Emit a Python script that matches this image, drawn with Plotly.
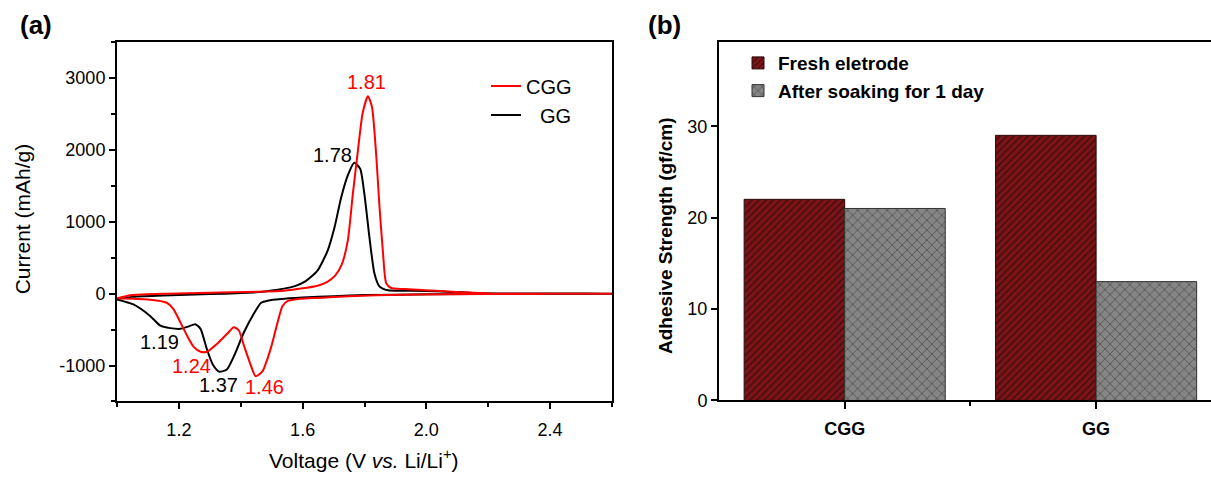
import plotly.graph_objects as go

W, H = 1211, 479
FONT = "Liberation Sans, Arial, sans-serif"

# ---------------- Panel (a): CV curves ----------------
gg_cath_v = [2.6, 2.3, 2.0, 1.8, 1.7, 1.6, 1.53, 1.49, 1.465, 1.445, 1.41, 1.38, 1.355, 1.33, 1.31,
             1.29, 1.27, 1.253, 1.232, 1.205, 1.172, 1.14, 1.107, 1.053, 1.0]
gg_cath_i = [0, -3, -10, -20, -35, -55, -75, -95, -130, -260, -540, -850, -1055, -1085, -990,
             -765, -490, -425, -455, -490, -480, -445, -310, -150, -80]
gg_anod_v = [1.0, 1.05, 1.15, 1.25, 1.35, 1.45, 1.5, 1.54, 1.575, 1.61, 1.648, 1.681, 1.703, 1.724, 1.746,
             1.767, 1.786, 1.8, 1.816, 1.832, 1.848, 1.876, 1.95, 2.05, 2.15, 2.3, 2.6]
gg_anod_i = [-80, -45, -27, -12, 0, 20, 45, 70, 105, 175, 320, 600, 919, 1328, 1646,
             1820, 1738, 1374, 783, 282, 101, 46, 40, 30, 10, 2, 0]

cgg_cath_v = [2.6, 2.2, 1.92, 1.75, 1.648, 1.594, 1.551, 1.535, 1.519, 1.497, 1.47, 1.448, 1.432,
              1.41, 1.394, 1.378, 1.356, 1.324, 1.291, 1.27, 1.248, 1.226, 1.205, 1.183, 1.161, 1.1, 1.0]
cgg_cath_i = [0, -5, -14, -35, -59, -72, -104, -172, -400, -764, -1082, -1150, -991,
              -718, -513, -468, -559, -696, -809, -809, -741, -581, -400, -218, -127, -82, -65]
cgg_anod_v = [1.0, 1.05, 1.16, 1.3, 1.45, 1.54, 1.594, 1.648, 1.68, 1.705, 1.726, 1.746, 1.762, 1.778,
              1.794, 1.811, 1.824, 1.838, 1.848, 1.86, 1.87, 1.886, 1.93, 2.06, 2.22, 2.6]
cgg_anod_i = [-65, -20, 0, 12, 25, 40, 70, 110, 165, 250, 400, 737, 1374, 1964,
              2510, 2747, 2601, 1919, 1237, 555, 146, 78, 64, 33, 0, 0]

y_tick_vals = [-1000, 0, 1000, 2000, 3000]
y_tick_text = ["-1000", "0", "1000", "2000", "3000"]

peak_text = ["1.81", "1.78", "1.19", "1.24", "1.37", "1.46"]
peak_v = [1.805, 1.695, 1.138, 1.240, 1.329, 1.477]
peak_i = [2942, 1929, -672, -1004, -1276, -1304]
peak_color = ["#ff0000", "#000000", "#000000", "#ff0000", "#000000", "#ff0000"]

# ---------------- Panel (b): adhesive strength ----------------
categories = ["CGG", "GG"]
fresh = [22, 29]
soaked = [21, 13]

fig = go.Figure()

fig.add_trace(go.Scatter(
    x=gg_cath_v + gg_anod_v, y=gg_cath_i + gg_anod_i, mode="lines", name="\u2002\u2009GG",
    line=dict(color="#000000", width=2, shape="spline", smoothing=0.6),
    xaxis="x", yaxis="y", legend="legend", legendrank=2))
fig.add_trace(go.Scatter(
    x=cgg_cath_v + cgg_anod_v, y=cgg_cath_i + cgg_anod_i, mode="lines", name="CGG",
    line=dict(color="#ff0000", width=2, shape="spline", smoothing=0.6),
    xaxis="x", yaxis="y", legend="legend", legendrank=1))

xpos = list(range(len(categories)))
fig.add_trace(go.Bar(
    x=xpos, y=fresh, name="Fresh eletrode", xaxis="x2", yaxis="y2", legend="legend2",
    marker=dict(color="#7d1416", line=dict(color="#2a0a0a", width=1),
                pattern=dict(shape="/", fgcolor="#1a0505", bgcolor="#7d1416", size=5, solidity=0.35))))
fig.add_trace(go.Bar(
    x=xpos, y=soaked, name="After soaking for 1 day", xaxis="x2", yaxis="y2", legend="legend2",
    marker=dict(color="#858585", line=dict(color="#333333", width=1),
                pattern=dict(shape="x", fgcolor="#2a2a2a", bgcolor="#858585", size=7, solidity=0.25))))

def px(x):
    return x / W

def py(y):
    return 1 - y / H

axis_common = dict(showline=True, linecolor="black", linewidth=2, ticks="outside",
                   tickcolor="black", tickwidth=2, showgrid=False, zeroline=False)
tick_font = dict(family=FONT, size=18, color="black")

fig.update_layout(
    width=W, height=H, margin=dict(l=0, r=0, t=0, b=0),
    paper_bgcolor="white", plot_bgcolor="white",
    font=dict(family=FONT, color="black"),
    barmode="group", bargap=0.2, bargroupgap=0,
    xaxis=dict(domain=[px(117), px(612)], anchor="y", range=[1.0, 2.6], mirror=True,
               tickmode="linear", tick0=1.2, dtick=0.4, ticklen=6, tickformat=".1f",
               tickfont=tick_font, ticklabelstandoff=5,
               minor=dict(ticks="outside", dtick=0.2, tick0=1.0, ticklen=4, tickcolor="black", tickwidth=2),
               **axis_common),
    yaxis=dict(domain=[py(410), py(43)], anchor="x", range=[-1500, 3500], mirror=True,
               tickmode="array", tickvals=y_tick_vals, ticktext=y_tick_text, ticklen=6,
               tickfont=tick_font,
               minor=dict(ticks="outside", tickmode="linear", dtick=500, tick0=0, ticklen=4,
                          tickcolor="black", tickwidth=2),
               **axis_common),
    xaxis2=dict(domain=[px(719), 1.0], anchor="y2", range=[-0.5, 1.457], mirror=True,
                tickmode="array", tickvals=xpos, ticktext=[f"<b>{c}</b>" for c in categories], ticklen=7,
                tickfont=dict(family=FONT, size=18, color="black"), ticklabelstandoff=4,
                minor=dict(ticks="outside", tickmode="array", tickvals=[0.5], ticklen=4,
                           tickcolor="black", tickwidth=2),
                **axis_common),
    yaxis2=dict(domain=[py(409), py(43)], anchor="x2", range=[0, 39.2], mirror=False,
                tickmode="linear", tick0=0, dtick=10, ticklen=6, tickfont=tick_font, **axis_common),
    legend=dict(x=px(486), y=py(68), xanchor="left", yanchor="top", bgcolor="rgba(0,0,0,0)",
                font=dict(family=FONT, size=20, color="black"), itemwidth=30, tracegroupgap=0),
    legend2=dict(x=px(738), y=py(45), xanchor="left", yanchor="top", bgcolor="rgba(0,0,0,0)",
                 font=dict(family=FONT, size=19, color="black", weight="bold"), tracegroupgap=0),
    showlegend=True,
)

annotations = []
for t, v, i, c in zip(peak_text, peak_v, peak_i, peak_color):
    annotations.append(dict(x=v, y=i, xref="x", yref="y", text=t, showarrow=False,
                            xanchor="center", yanchor="middle",
                            font=dict(family=FONT, size=20, color=c)))

annotations += [
    dict(x=px(36), y=py(26), xref="paper", yref="paper", text="<b>(a)</b>", showarrow=False,
         xanchor="center", yanchor="middle", font=dict(family=FONT, size=26, color="black")),
    dict(x=px(664), y=py(26), xref="paper", yref="paper", text="<b>(b)</b>", showarrow=False,
         xanchor="center", yanchor="middle", font=dict(family=FONT, size=26, color="black")),
    dict(x=px(22), y=py(224), xref="paper", yref="paper", text="Current (mAh/g)", textangle=-90,
         showarrow=False, xanchor="center", yanchor="middle",
         font=dict(family=FONT, size=21, color="black")),
    dict(x=px(364), y=py(469), xref="paper", yref="paper",
         text="Voltage (V <i>vs.</i> Li/Li<sup>+</sup>)", showarrow=False,
         xanchor="center", yanchor="middle", font=dict(family=FONT, size=21, color="black")),
    dict(x=px(666), y=py(241), xref="paper", yref="paper", text="<b>Adhesive Strength (gf/cm)</b>",
         textangle=-90, showarrow=False, xanchor="center", yanchor="middle",
         font=dict(family=FONT, size=19, color="black")),
]
fig.update_layout(annotations=annotations)

fig.write_html("out.html")
